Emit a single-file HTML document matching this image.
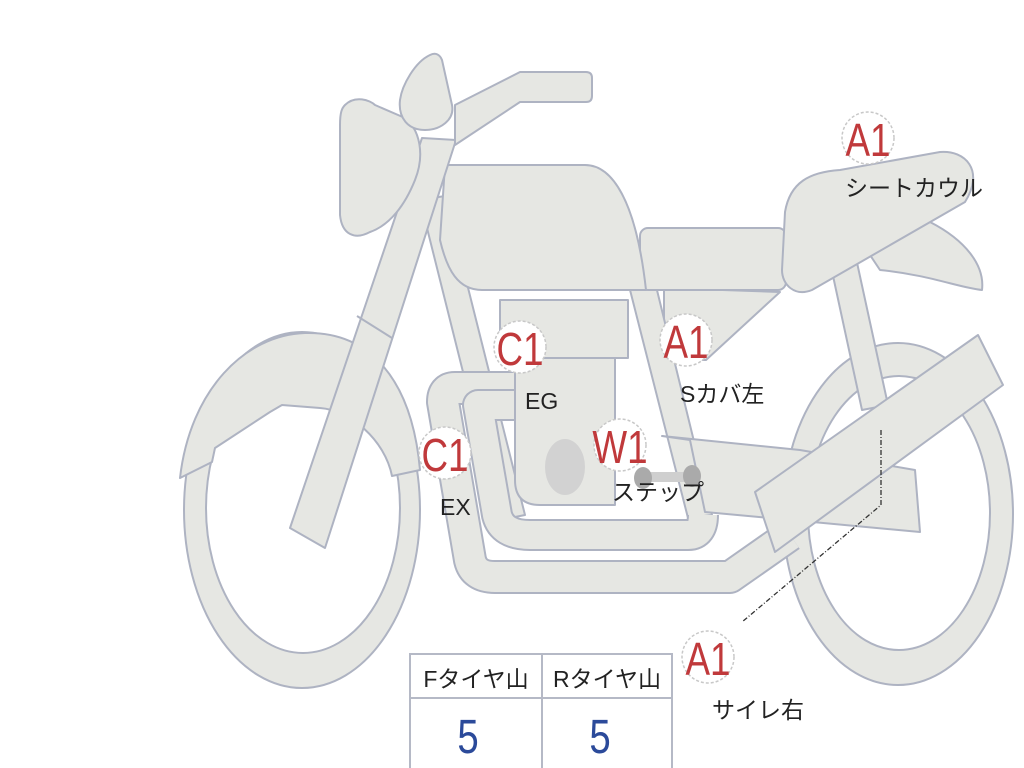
<!DOCTYPE html>
<html><head><meta charset="utf-8"><style>
html,body{margin:0;padding:0;background:#fff;width:1024px;height:768px;overflow:hidden}
svg{display:block}
.p{fill:#e6e7e3;stroke:#aeb3c2;stroke-width:2;stroke-linejoin:round}
.lab{font-family:"Liberation Sans","Noto Sans CJK JP",sans-serif;font-size:23px;fill:#222}
.code{font-family:"Liberation Sans",sans-serif;font-size:46px;fill:#c0393b;text-anchor:middle}
.c{fill:#fff;stroke:#c8c8c8;stroke-width:1.5;stroke-dasharray:3 2}
</style></head><body>
<svg width="1024" height="768" viewBox="0 0 1024 768">
<ellipse cx="898" cy="514" rx="115" ry="171" class="p"/>
<ellipse cx="899" cy="513" rx="91" ry="137" fill="#fff" stroke="#aeb3c2" stroke-width="2"/>
<ellipse cx="302" cy="510" rx="118" ry="178" class="p"/>
<ellipse cx="303" cy="508" rx="97" ry="145" fill="#fff" stroke="#aeb3c2" stroke-width="2"/>
<path class="p" d="M180,478 C190,390 245,335 305,333 C370,331 412,380 420,470 L392,476 C385,440 350,410 320,408 L282,405 L270,412 L215,448 L212,462 Z"/>
<path class="p" d="M860,240 L930,222 C965,240 985,265 982,290 C960,288 930,275 880,270 Z"/>
<polygon class="p" points="830,262 856,258 888,405 862,410"/>
<polygon class="p" points="664,288 780,292 706,360 664,360"/>
<polygon class="p" points="420,200 445,196 525,515 500,520"/>
<polygon class="p" points="628,282 655,282 712,515 688,518"/>
<polygon class="p" points="662,436 800,450 915,470 920,532 705,512 690,440"/>
<path d="M515,388 L455,388 Q443,388 443,402 L470,560 Q474,577 495,577 L730,577 L790,535" fill="none" stroke="#aeb3c2" stroke-width="34" stroke-linejoin="round"/>
<path d="M515,388 L455,388 Q443,388 443,402 L470,560 Q474,577 495,577 L730,577 L790,535" fill="none" stroke="#e6e7e3" stroke-width="30" stroke-linejoin="round"/>
<path d="M520,405 L478,405 L497,515 Q502,535 530,535 L688,535 Q703,535 703,515" fill="none" stroke="#aeb3c2" stroke-width="32" stroke-linejoin="round"/>
<path d="M520,405 L478,405 L497,515 Q502,535 530,535 L688,535 Q703,535 703,515" fill="none" stroke="#e6e7e3" stroke-width="28" stroke-linejoin="round"/>
<path class="p" d="M515,358 L615,358 L615,505 L540,505 Q515,505 515,480 Z"/>
<rect class="p" x="500" y="300" width="128" height="58"/>
<ellipse cx="565" cy="467" rx="20" ry="28" fill="#d2d2d2"/>
<rect x="640" y="472" width="52" height="10" fill="#cfcfcf"/>
<ellipse cx="643" cy="478" rx="9" ry="11" fill="#aaa"/>
<ellipse cx="692" cy="476" rx="9" ry="11" fill="#aaa"/>
<polygon class="p" points="755,492 978,335 1003,385 775,552"/>
<rect class="p" x="640" y="228" width="146" height="62" rx="8"/>
<path class="p" d="M785,212 C790,182 810,172 840,170 L940,152 C965,150 985,170 965,202 L812,290 C795,297 782,285 782,270 Z"/>
<path class="p" d="M445,165 L585,165 C612,165 636,200 646,290 L482,290 C458,290 447,270 440,240 Z"/>
<polygon class="p" points="422,138 456,140 325,548 290,528"/>
<line x1="357" y1="316" x2="392" y2="338" stroke="#aeb3c2" stroke-width="2"/>
<path class="p" d="M345,105 C355,95 370,100 375,105 L405,118 C420,130 425,155 415,180 C405,205 390,225 370,232 C355,240 342,235 340,215 L340,125 C340,112 342,108 345,105 Z"/>
<path class="p" d="M455,105 L520,72 L586,72 Q592,72 592,78 L592,96 Q592,102 586,102 L520,102 L455,145 Z"/>
<path class="p" d="M430,55 C436,52 440,55 442,60 L452,105 C455,120 440,130 425,130 C408,130 398,118 400,100 C402,85 415,62 430,55 Z"/>
<polyline points="881,430 881,505 742,622" fill="none" stroke="#333" stroke-width="1.3" stroke-dasharray="5 2 1 2"/>
<circle class="c" cx="868" cy="138" r="26"/><text class="code" transform="translate(868,156) scale(0.8,1)">A1</text>
<text class="lab" x="845" y="196">シートカウル</text>
<circle class="c" cx="520" cy="347" r="26"/><text class="code" transform="translate(520,365) scale(0.8,1)">C1</text>
<text class="lab" x="525" y="409">EG</text>
<circle class="c" cx="686" cy="340" r="26"/><text class="code" transform="translate(686,358) scale(0.8,1)">A1</text>
<text class="lab" x="680" y="402">Sカバ左</text>
<circle class="c" cx="620" cy="445" r="26"/><text class="code" transform="translate(620,463) scale(0.8,1)">W1</text>
<text class="lab" x="612" y="500">ステップ</text>
<circle class="c" cx="445" cy="453" r="26"/><text class="code" transform="translate(445,471) scale(0.8,1)">C1</text>
<text class="lab" x="440" y="515">EX</text>
<circle class="c" cx="708" cy="657" r="26"/><text class="code" transform="translate(708,675) scale(0.8,1)">A1</text>
<text class="lab" x="712" y="718">サイレ右</text>
<rect x="410" y="654" width="262" height="120" fill="#fff" stroke="#b5b9c6" stroke-width="2"/>
<line x1="410" y1="698" x2="672" y2="698" stroke="#b5b9c6" stroke-width="2"/>
<line x1="542" y1="654" x2="542" y2="768" stroke="#b5b9c6" stroke-width="2"/>
<text class="lab" x="476" y="687" text-anchor="middle">Fタイヤ山</text>
<text class="lab" x="607" y="687" text-anchor="middle">Rタイヤ山</text>
<text transform="translate(468,753) scale(0.8,1)" font-family="Liberation Sans,sans-serif" font-size="48" fill="#2b4a9a" text-anchor="middle">5</text>
<text transform="translate(600,753) scale(0.8,1)" font-family="Liberation Sans,sans-serif" font-size="48" fill="#2b4a9a" text-anchor="middle">5</text>
</svg>
</body></html>
